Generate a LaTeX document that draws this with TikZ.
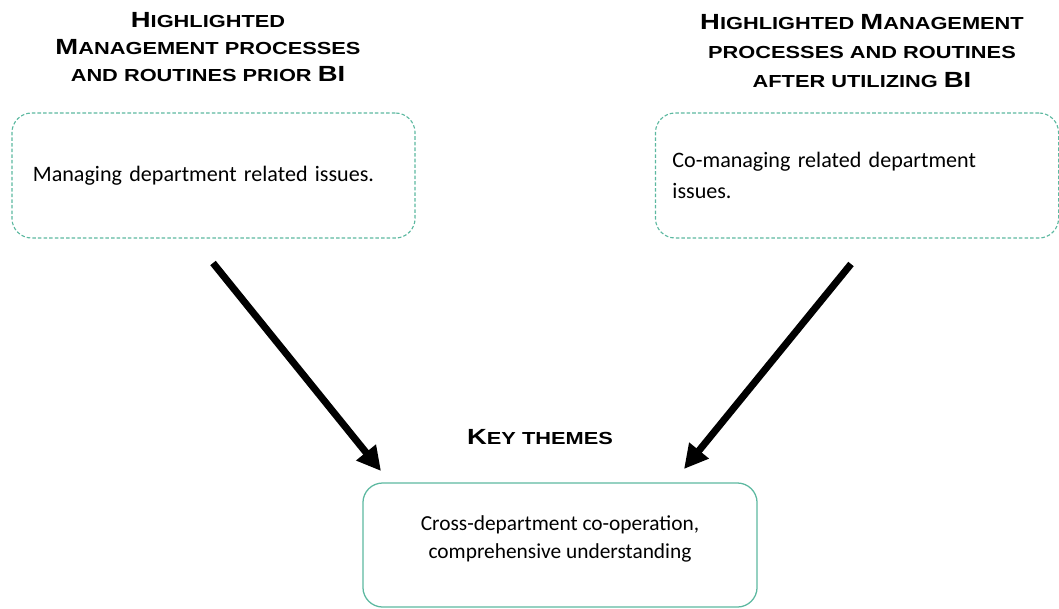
\documentclass[tikz,border=0pt]{standalone}
\usepackage{fontspec}
\setmainfont{Carlito}
\newfontfamily\headfont{Liberation Sans}[FakeStretch=1.25]
\usetikzlibrary{arrows.meta, positioning}
\definecolor{boxgreen}{RGB}{92,184,160}
\tikzstyle{arrow} = [line width=5pt, -{Triangle[length=17pt,width=17pt]}]
\tikzstyle{heading} = [align=center, font=\headfont\bfseries\fontsize{12.4}{19.5}\selectfont]
\newcommand\capL[1]{{\fontsize{15.6}{19.5}\selectfont #1}}
\tikzset{
	dashbox/.style = {rectangle, rounded corners=14pt, draw=boxgreen, line width=0.8pt,
		dash pattern=on 2.5pt off 1.5pt, minimum width=10.075cm, minimum height=3.125cm,
		text width=10.075cm-2*\pgfkeysvalueof{/pgf/inner xsep}, align=left,
		font=\fontsize{15.7}{21.5}\selectfont},
	keybox/.style = {rectangle, rounded corners=14pt, draw=boxgreen, line width=0.9pt,
		minimum width=9.85cm, minimum height=3.1cm, align=center,
		font=\fontsize{15.2}{20}\selectfont},
}

\begin{document}
\begin{tikzpicture}[x=0.025cm, y=-0.025cm]
\useasboundingbox (0,0) rectangle (1059,608);
% headings
\node (headL) [heading] at (208,47) {\capL{H}IGHLIGHTED\\ \capL{M}ANAGEMENT PROCESSES\\ AND ROUTINES PRIOR \capL{BI}};
\node (headR) [heading, font=\headfont\bfseries\fontsize{12.4}{20.5}\selectfont] at (862,51) {\capL{H}IGHLIGHTED \capL{M}ANAGEMENT\\ PROCESSES AND ROUTINES\\ AFTER UTILIZING \capL{BI}};
\node (headK) [heading] at (540,437) {\capL{K}EY THEMES};

% boxes
\node (before) [dashbox, inner xsep=0.525cm] at (213.5,175.5) {Managing department related issues.};
\node (after) [dashbox, inner xsep=0.425cm] at (857,175.5) {Co-managing related department\\ issues.};
\node (key) [keybox] at (560,545) {Cross-department co-operation,\\ comprehensive understanding\\[-8.6pt]};

% arrow ends
\coordinate (tailL) at (213,263);
\coordinate (tipL) at (381,471);
\coordinate (tailR) at (851,264);
\coordinate (tipR) at (684,469);

\draw [arrow] (tailL) -- (tipL);
\draw [arrow] (tailR) -- (tipR);
\end{tikzpicture}
\end{document}
